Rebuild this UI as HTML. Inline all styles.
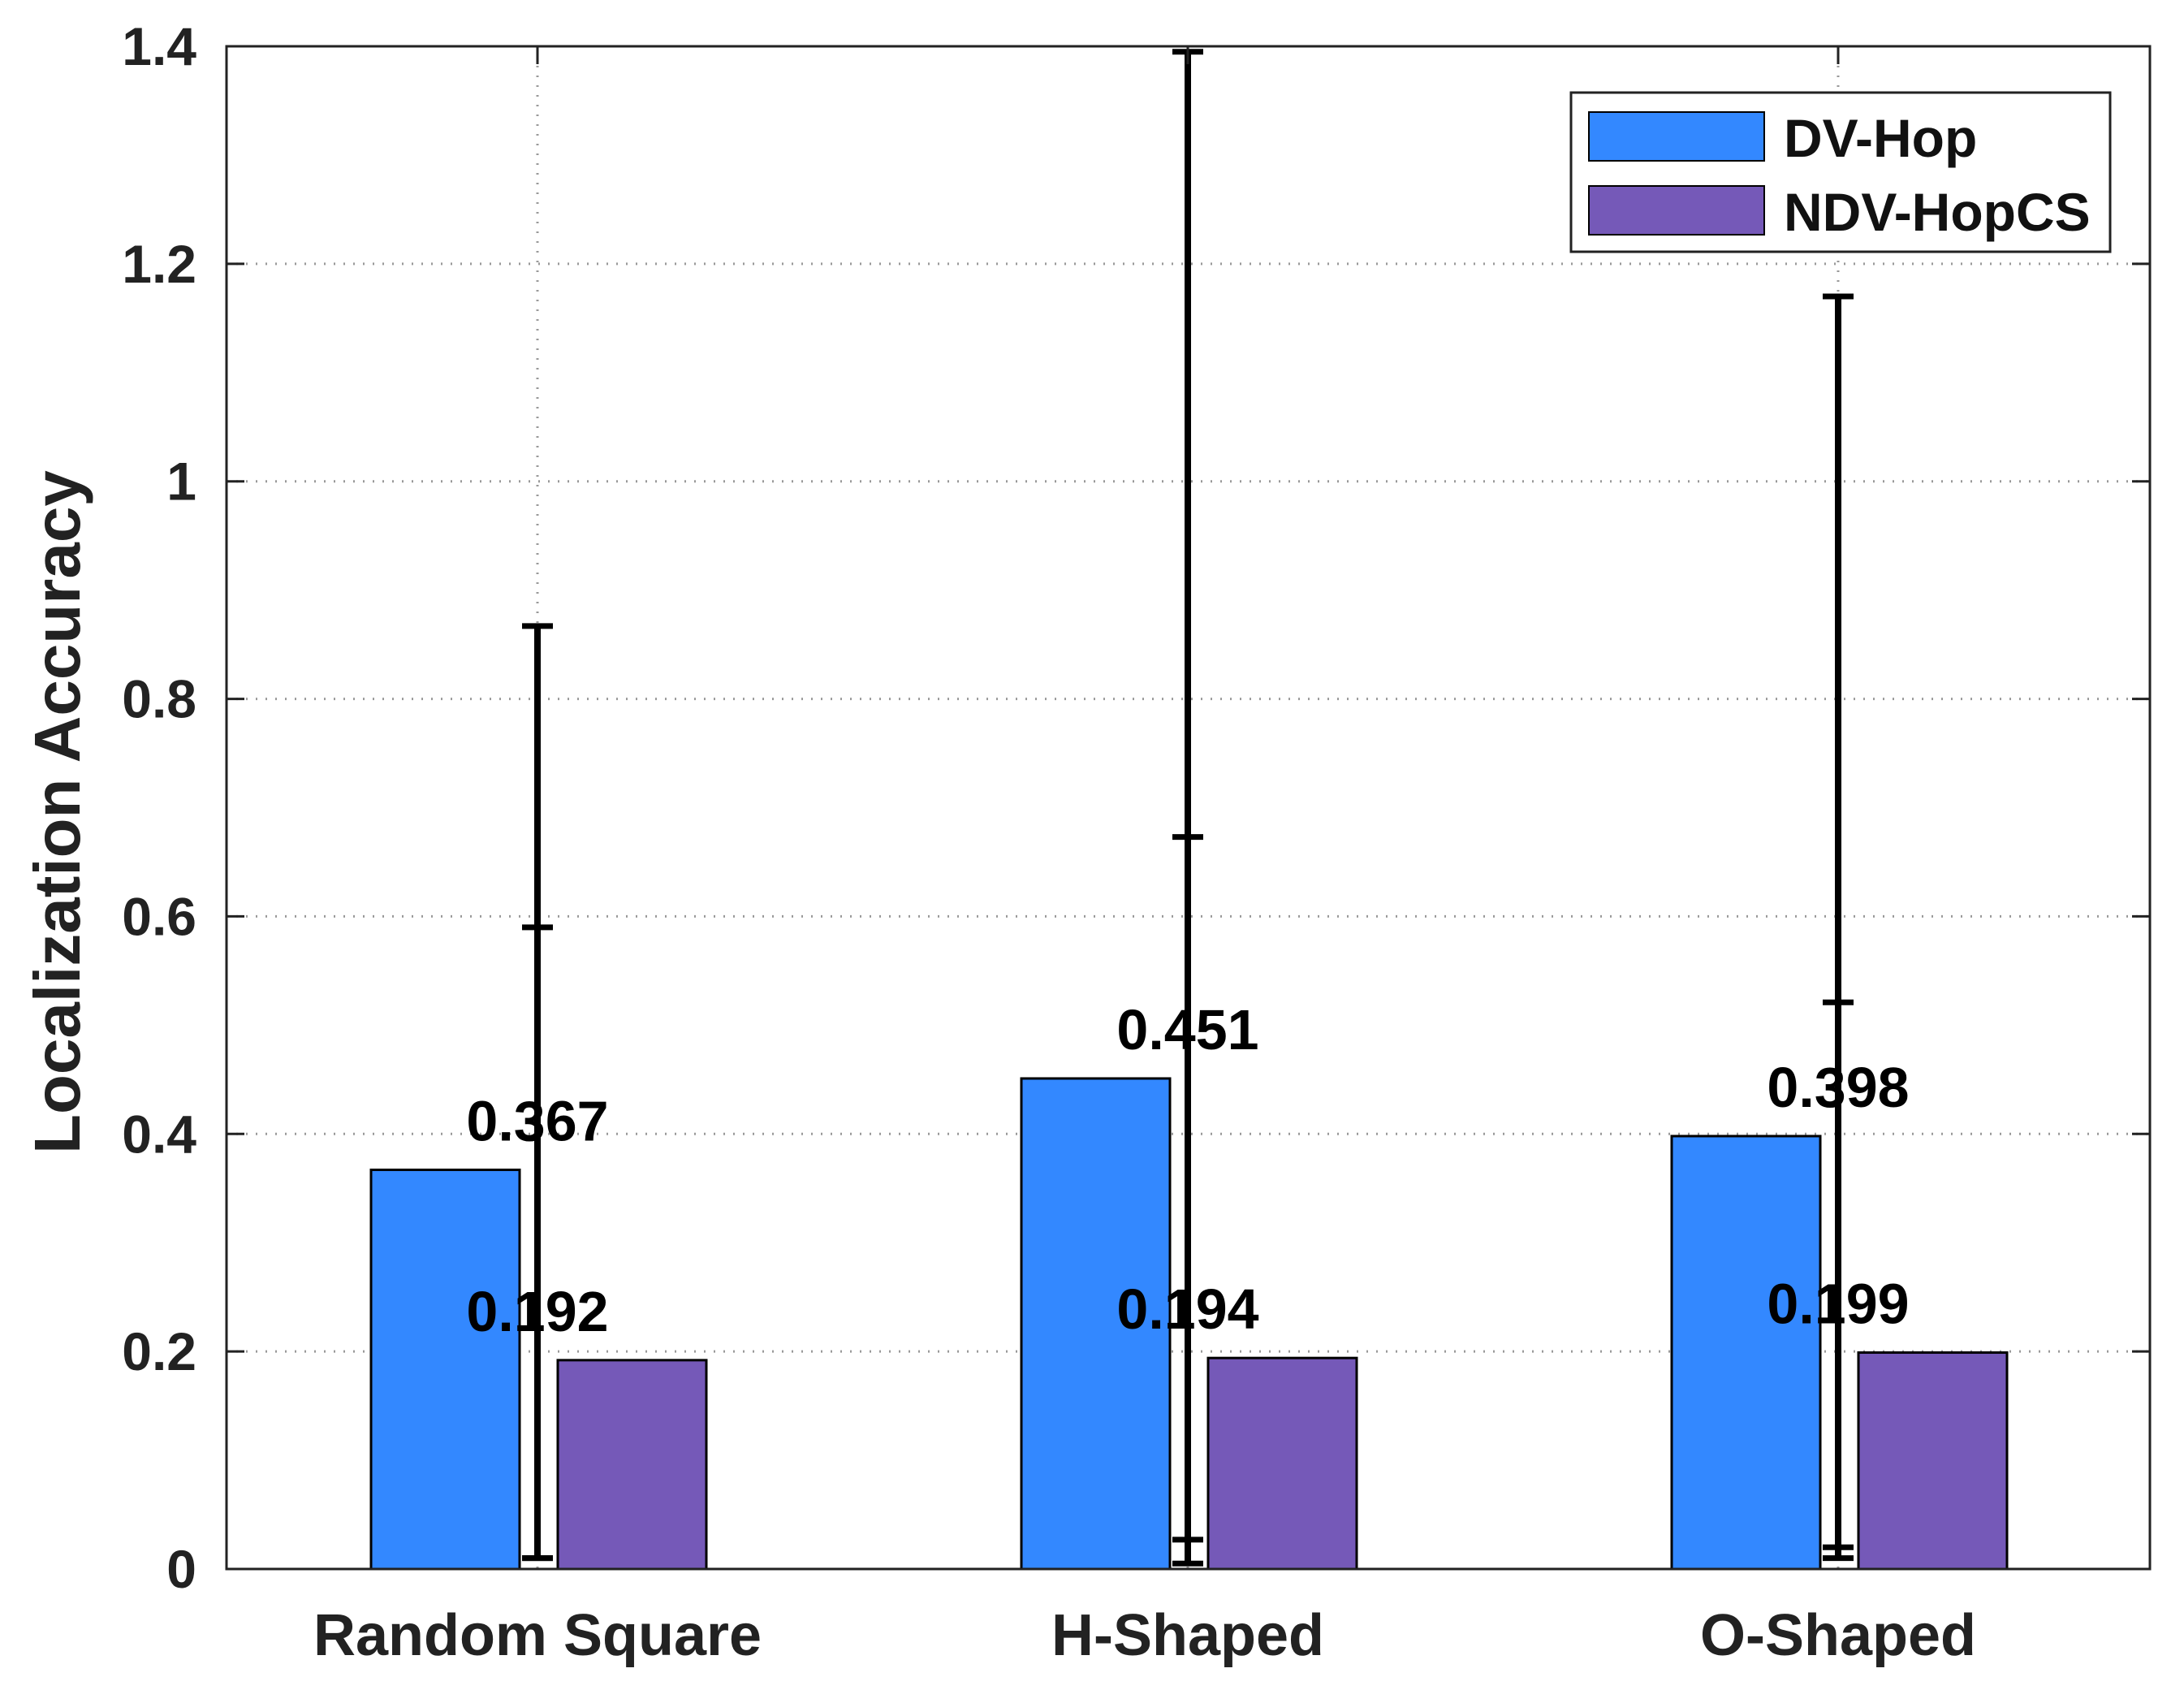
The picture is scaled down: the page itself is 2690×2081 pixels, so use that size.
<!DOCTYPE html>
<html><head><meta charset="utf-8"><style>
html,body{margin:0;padding:0;background:#fff;}
svg{display:block;font-family:"Liberation Sans",Arial,sans-serif;}
</style></head><body>
<svg id="chart" width="2690" height="2081" viewBox="0 0 2690 2081" xmlns="http://www.w3.org/2000/svg">
<rect width="2690" height="2081" fill="#fff"/>
<g id="grid"></g>
<g id="bars"></g>
<g id="errs"></g>
<g id="labels"></g>
<rect x="279" y="57" width="2369" height="1875" fill="none" stroke="#222" stroke-width="3"/>
<g id="axes"></g>
<text transform="translate(98,1000) rotate(-90)" text-anchor="middle" font-size="80" font-weight="bold" fill="#222">Localization Accuracy</text>
<g>
<rect x="1935" y="114" width="664" height="196" fill="#fff" stroke="#222" stroke-width="3"/>
<rect x="1957" y="138" width="216" height="60" fill="#3388ff" stroke="#000" stroke-width="2"/>
<text x="2197" y="193" font-size="66" font-weight="bold" fill="#111">DV-Hop</text>
<rect x="1957" y="229" width="216" height="60" fill="#7559b8" stroke="#000" stroke-width="2"/>
<text x="2197" y="284" font-size="66" font-weight="bold" fill="#111">NDV-HopCS</text>
</g>
</svg>
<script>
const categories = ["Random Square", "H-Shaped", "O-Shaped"];
const dvHop = [0.367, 0.451, 0.398];
const ndvHop = [0.192, 0.194, 0.199];
const errHighA = [0.867, 1.395, 1.17];
const errLowA = [0.01, 0.005, 0.01];
const errHighB = [0.59, 0.673, 0.521];
const errLowB = [0.01, 0.027, 0.02];
const yTicks = [0, 0.2, 0.4, 0.6, 0.8, 1, 1.2, 1.4];
const yTickLabels = ["0", "0.2", "0.4", "0.6", "0.8", "1", "1.2", "1.4"];

const NS = "http://www.w3.org/2000/svg";
const L = 279, R = 2648, T = 57, B = 1932;
function y(v){ return B - (v / 1.4) * (B - T); }
function x(i){ return 662 + i * 801; }
const barW = 183;
function mk(tag, attrs, parent){
  const e = document.createElementNS(NS, tag);
  for (const k in attrs) e.setAttribute(k, attrs[k]);
  parent.appendChild(e); return e;
}
const grid = document.getElementById('grid'), bars = document.getElementById('bars'),
  errs = document.getElementById('errs'), labels = document.getElementById('labels'),
  axes = document.getElementById('axes');

yTicks.forEach((v, i) => {
  if (v > 0 && v < 1.4) {
    const g = mk('line', {x1: L, x2: R, y1: y(v), y2: y(v), stroke: '#999', 'stroke-width': 3, 'stroke-dasharray': '2 10'}, grid);
    
    
  }
  const t1 = mk('line', {x1: L, x2: L + 22, y1: y(v), y2: y(v), stroke: '#222', 'stroke-width': 3}, axes);
  
  
  const t2 = mk('line', {x1: R - 22, x2: R, y1: y(v), y2: y(v), stroke: '#222', 'stroke-width': 3}, axes);
  
  
  const tl = mk('text', {x: 242, y: y(v) + 23, 'text-anchor': 'end', 'font-size': 66, 'font-weight': 'bold', fill: '#222'}, axes);
  tl.textContent = yTickLabels[i];
  
  
});

categories.forEach((c, i) => {
  const cx = x(i);
  const vg = mk('line', {x1: cx, x2: cx, y1: T, y2: B, stroke: '#999', 'stroke-width': 3, 'stroke-dasharray': '2 10'}, grid);
  
  
  const xt = mk('line', {x1: cx, x2: cx, y1: T, y2: T + 22, stroke: '#222', 'stroke-width': 3}, axes);
  
  
  const xl = mk('text', {x: cx, y: 2038, 'text-anchor': 'middle', 'font-size': 72, 'font-weight': 'bold', fill: '#222'}, axes);
  xl.textContent = c;
  
  

  const b1 = mk('rect', {x: cx - 205, y: y(dvHop[i]), width: barW, height: B - y(dvHop[i]), fill: '#3388ff', stroke: '#000', 'stroke-width': 3}, bars);
  
  
  const b2 = mk('rect', {x: cx + 25, y: y(ndvHop[i]), width: barW, height: B - y(ndvHop[i]), fill: '#7559b8', stroke: '#000', 'stroke-width': 3}, bars);
  
  

  [[errLowA[i], errHighA[i]], [errLowB[i], errHighB[i]]].forEach(([lo, hi]) => {
    const ln = mk('line', {x1: cx, x2: cx, y1: y(lo), y2: y(hi), stroke: '#000', 'stroke-width': 8}, errs);
    
    
    [lo, hi].forEach(v => {
      const cap = mk('line', {x1: cx - 19, x2: cx + 19, y1: y(v), y2: y(v), stroke: '#000', 'stroke-width': 7}, errs);
      
      
    });
  });

  const l1 = mk('text', {x: cx, y: y(dvHop[i]) - 36, 'text-anchor': 'middle', 'font-size': 70, 'font-weight': 'bold', fill: '#000'}, labels);
  l1.textContent = dvHop[i].toFixed(3);
  
  
  const l2 = mk('text', {x: cx, y: y(ndvHop[i]) - 36, 'text-anchor': 'middle', 'font-size': 70, 'font-weight': 'bold', fill: '#000'}, labels);
  l2.textContent = ndvHop[i].toFixed(3);
  
  
});
</script>
</body></html>
